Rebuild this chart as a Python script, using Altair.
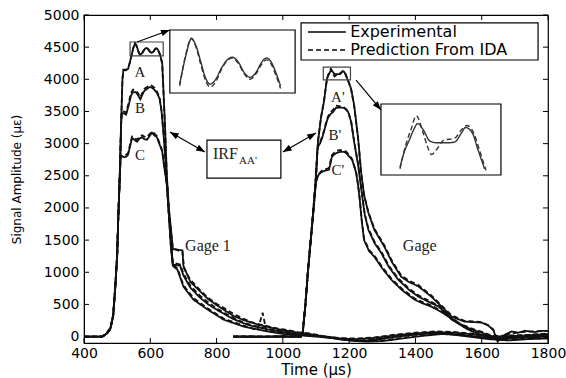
import math
import altair as alt
import pandas as pd

# ---------------- data ----------------
X_TICKS = [400, 600, 800, 1000, 1200, 1400, 1600, 1800]
Y_TICKS = [0, 500, 1000, 1500, 2000, 2500, 3000, 3500, 4000, 4500, 5000]
KINDS = ["Experimental", "Prediction From IDA"]

G1A_EXP = [(400,0),(450,0),(458,5),(470,60),(479,120),(488,330),(494,750),(500,1260),(503,1790),(508,2500),(512,3300),(516,4000),(519,4146),(526,4140),(533,4160),(540,4300),(544,4386),(549,4490),(554,4558),(558,4530),(562,4470),(566,4410),(570,4386),(574,4400),(580,4450),(585,4480),(589,4488),(594,4470),(599,4430),(604,4412),(609,4430),(614,4470),(618,4485),(622,4470),(626,4430),(630,4379),(636,4250),(640,3800),(645,3200),(650,2500),(656,2000),(662,1700),(668,1360),(683,1350),(697,1340),(700,1100),(721,850),(751,700),(775,580),(803,480),(830,390),(852,320),(880,260),(903,220),(930,180),(955,150),(980,120),(1003,100),(1025,80),(1045,60),(1080,40),(1120,0),(1180,-50),(1230,-70),(1280,-50),(1330,-10),(1400,30),(1450,50),(1500,40),(1560,0),(1620,-40),(1680,-60),(1740,-40),(1800,-30)]
G1A_PRED = [(400,0),(455,0),(470,70),(480,140),(488,340),(494,760),(500,1280),(503,1800),(508,2520),(512,3320),(516,4010),(519,4150),(527,4150),(533,4170),(540,4290),(544,4380),(549,4495),(554,4560),(558,4525),(562,4460),(566,4400),(570,4375),(574,4390),(580,4445),(585,4478),(589,4485),(594,4465),(599,4425),(604,4405),(609,4425),(614,4462),(618,4478),(622,4462),(626,4420),(630,4370),(636,4240),(640,3780),(645,3180),(650,2480),(656,1980),(662,1650),(668,1380),(683,1340),(697,1320),(702,1060),(721,880),(751,720),(775,600),(803,500),(830,420),(852,350),(880,280),(903,230),(930,190),(955,160),(980,130),(1003,110),(1045,70),(1080,50),(1120,10),(1180,-40),(1230,-60),(1280,-40),(1330,0),(1400,40),(1450,60),(1500,50),(1560,10),(1620,-30),(1680,-50),(1740,-30),(1800,-20)]

G1B_EXP = [(400,0),(450,0),(458,5),(470,55),(479,115),(488,320),(494,740),(500,1250),(503,1780),(508,2500),(512,3300),(514,3480),(520,3470),(527,3450),(535,3600),(542,3750),(548,3800),(556,3800),(562,3760),(570,3690),(576,3760),(582,3820),(590,3850),(598,3880),(605,3870),(612,3840),(620,3790),(628,3700),(634,3500),(640,3150),(645,2800),(650,2350),(656,1900),(662,1500),(668,1120),(680,1110),(690,1100),(700,950),(721,760),(751,600),(775,500),(803,410),(830,330),(852,270),(880,210),(903,170),(955,110),(1003,70),(1045,40),(1090,20),(1150,-20),(1200,-60),(1250,-80),(1300,-70),(1360,-30),(1420,10),(1480,40),(1540,20),(1600,-10),(1660,-30),(1720,-20),(1800,0)]
G1B_PRED = [(400,0),(455,0),(470,60),(480,130),(488,330),(494,750),(500,1260),(503,1790),(508,2510),(512,3310),(514,3490),(520,3500),(527,3480),(535,3640),(542,3790),(548,3840),(556,3830),(562,3790),(570,3720),(576,3790),(582,3850),(590,3880),(598,3910),(605,3900),(612,3870),(620,3810),(628,3720),(634,3510),(640,3160),(645,2810),(650,2360),(656,1910),(662,1520),(668,1150),(690,1120),(700,980),(721,790),(751,630),(775,530),(803,430),(830,350),(852,290),(880,220),(903,180),(955,120),(1003,80),(1045,50),(1090,25),(1150,-10),(1200,-50),(1250,-70),(1300,-60),(1360,-20),(1420,20),(1480,50),(1540,30),(1600,0),(1660,-20),(1720,-10),(1800,10)]

G1C_EXP = [(400,0),(450,0),(458,5),(470,50),(479,110),(488,310),(494,730),(500,1240),(503,1770),(508,2500),(511,2795),(515,2800),(522,2790),(528,2800),(533,2830),(540,2980),(545,3090),(552,3060),(560,3030),(568,3080),(575,3100),(582,3070),(590,3060),(598,3120),(605,3170),(612,3130),(620,3100),(627,3000),(636,2880),(642,2640),(651,2330),(656,1900),(662,1400),(668,1100),(682,1040),(700,776),(730,575),(773,420),(821,264),(882,155),(955,78),(1003,40),(1045,20),(1100,0),(1160,-30),(1220,-40),(1280,-20),(1340,20),(1400,50),(1460,70),(1520,60),(1580,30),(1640,0),(1700,10),(1760,20),(1800,30)]
G1C_PRED = [(400,0),(455,0),(470,55),(480,120),(488,320),(494,740),(500,1250),(503,1780),(508,2510),(511,2810),(522,2810),(533,2850),(540,3010),(545,3110),(552,3090),(560,3060),(568,3110),(575,3130),(582,3110),(590,3100),(598,3150),(605,3190),(612,3160),(620,3120),(627,3020),(636,2890),(642,2650),(651,2340),(656,1920),(662,1420),(668,1120),(682,1060),(700,800),(730,600),(773,440),(821,280),(882,170),(924,100),(939,370),(950,90),(1003,50),(1045,30),(1100,10),(1160,-20),(1220,-30),(1280,-10),(1340,30),(1400,60),(1460,80),(1520,70),(1580,40),(1640,10),(1700,20),(1760,30),(1800,40)]

G2A_EXP = [(850,0),(900,5),(950,-5),(1000,10),(1030,0),(1054,0),(1060,62),(1068,500),(1076,1040),(1084,1500),(1091,1900),(1100,2500),(1106,3028),(1115,3400),(1124,3650),(1129,3850),(1133,4005),(1136,4050),(1140,4090),(1143,4120),(1146,4139),(1150,4120),(1155,4085),(1160,4080),(1168,4080),(1173,4082),(1178,4110),(1181,4127),(1186,4110),(1190,4060),(1195,3999),(1200,3940),(1206,3850),(1215,3603),(1227,3090),(1236,2562),(1245,2205),(1258,1925),(1276,1660),(1306,1400),(1330,1150),(1357,930),(1380,850),(1409,780),(1448,620),(1479,466),(1509,310),(1548,233),(1575,225),(1600,217),(1620,170),(1635,100),(1648,-78),(1660,-20),(1670,30),(1690,80),(1710,60),(1730,90),(1760,70),(1780,90),(1800,90)]
G2A_PRED = [(850,0),(900,0),(950,0),(1000,0),(1054,0),(1060,70),(1068,520),(1076,1060),(1084,1520),(1091,1920),(1100,2520),(1106,3040),(1115,3410),(1124,3660),(1129,3860),(1133,4000),(1137,4070),(1141,4120),(1145,4163),(1150,4110),(1153,4070),(1156,4044),(1160,4060),(1165,4088),(1173,4094),(1178,4120),(1182,4133),(1187,4110),(1191,4060),(1196,3995),(1200,3930),(1206,3840),(1215,3590),(1227,3080),(1236,2550),(1245,2200),(1258,1935),(1276,1680),(1306,1420),(1330,1170),(1357,950),(1380,870),(1409,800),(1448,640),(1479,480),(1509,330),(1548,245),(1600,225),(1620,175),(1635,110),(1648,-60),(1660,-10),(1680,40),(1720,70),(1760,80),(1800,90)]

G2B_EXP = [(850,0),(900,-10),(950,0),(1000,-5),(1054,0),(1060,60),(1068,490),(1076,1030),(1084,1490),(1091,1890),(1100,2480),(1104,2900),(1108,2980),(1112,3000),(1118,3080),(1124,3183),(1130,3300),(1136,3400),(1144,3460),(1152,3494),(1160,3556),(1172,3560),(1185,3556),(1192,3520),(1197,3494),(1206,3339),(1215,3028),(1227,2671),(1236,2314),(1247,1900),(1258,1660),(1277,1450),(1297,1300),(1320,1080),(1348,885),(1380,730),(1409,620),(1440,540),(1470,466),(1490,370),(1509,264),(1530,200),(1548,155),(1575,100),(1600,62),(1630,0),(1660,-50),(1700,0),(1750,20),(1800,40)]
G2B_PRED = [(850,0),(950,0),(1054,0),(1060,65),(1068,500),(1076,1040),(1084,1500),(1091,1900),(1100,2490),(1104,2890),(1108,2990),(1112,3020),(1118,3100),(1124,3200),(1130,3320),(1136,3420),(1144,3490),(1152,3530),(1160,3590),(1172,3580),(1185,3560),(1192,3530),(1197,3500),(1206,3350),(1215,3040),(1227,2680),(1236,2320),(1247,1910),(1258,1680),(1277,1470),(1297,1320),(1320,1100),(1348,905),(1380,750),(1409,640),(1440,560),(1470,480),(1490,385),(1509,280),(1530,215),(1548,170),(1575,115),(1600,75),(1630,15),(1660,-30),(1700,10),(1750,30),(1800,50)]

G2C_EXP = [(850,0),(900,0),(950,0),(1000,0),(1054,0),(1060,58),(1068,480),(1076,1020),(1084,1480),(1091,1880),(1100,2400),(1106,2500),(1112,2540),(1118,2562),(1128,2580),(1139,2593),(1144,2700),(1148,2795),(1155,2830),(1163,2857),(1172,2870),(1185,2873),(1192,2850),(1200,2800),(1209,2750),(1221,2547),(1227,2350),(1232,2130),(1238,1800),(1245,1500),(1260,1330),(1276,1240),(1300,1060),(1327,885),(1360,720),(1397,575),(1420,520),(1448,466),(1475,390),(1500,310),(1525,220),(1548,140),(1565,95),(1579,62),(1610,0),(1650,-20),(1700,-10),(1750,0),(1800,10)]
G2C_PRED = [(850,0),(950,0),(1054,0),(1060,60),(1068,490),(1076,1030),(1084,1490),(1091,1890),(1100,2410),(1106,2510),(1112,2550),(1118,2580),(1128,2600),(1139,2620),(1144,2730),(1148,2820),(1155,2860),(1163,2890),(1172,2900),(1185,2895),(1192,2870),(1200,2820),(1209,2760),(1221,2560),(1227,2360),(1232,2140),(1238,1810),(1245,1520),(1260,1350),(1276,1260),(1300,1080),(1327,905),(1360,740),(1397,595),(1420,540),(1448,485),(1475,405),(1500,325),(1525,235),(1548,155),(1565,110),(1579,75),(1610,15),(1650,-5),(1700,5),(1750,15),(1800,25)]

# annotation positions (data coordinates)
BOX_NAMES = ["zoomA", "insetA", "zoomA2", "insetA2", "irf", "legend"]
BOX_X = [(539, 639), (659, 1037), (1122, 1204), (1296, 1658), (771, 994), (1055, 1770)]
BOX_Y = [(4364, 4580), (3787, 4767), (3990, 4190), (2512, 3616), (2465, 3056), (4300, 4876)]
BOX_FILLED = [False, True, False, True, True, True]

ARROWS = [  # (x1, y1, x2, y2, head_at_start, head_at_end)
    (560, 4580, 659, 4767, False, True),
    (659, 3181, 765, 2870, True, True),
    (1000, 2870, 1100, 3165, True, True),
    (1221, 3989, 1296, 3523, False, True),
]

CURVE_LABELS = ["A", "B", "C", "A'", "B'", "C'"]
CURVE_LABEL_X = [569, 569, 569, 1166, 1157, 1166]
CURVE_LABEL_Y = [4114, 3554, 2823, 3725, 3134, 2590]

GAGE_LABELS = ["Gage 1", "Gage"]
GAGE_X = [705, 1362]
GAGE_Y = [1408, 1408]

# inset domains = the small boxes
INSET1_X, INSET1_Y = [539, 639], [4364, 4580]
INSET2_X, INSET2_Y = [1122, 1204], [3990, 4190]

# ---------------- layout ----------------
W, H = 464, 328
X_DOM, Y_DOM = [400, 1800], [-100, 5000]
SX = W / (X_DOM[1] - X_DOM[0])
SY = H / (Y_DOM[1] - Y_DOM[0])

def px(xv):
    return (xv - X_DOM[0]) * SX

def py(yv):
    return (Y_DOM[1] - yv) * SY

curves = {
    ("G1A", KINDS[0]): G1A_EXP, ("G1A", KINDS[1]): G1A_PRED,
    ("G1B", KINDS[0]): G1B_EXP, ("G1B", KINDS[1]): G1B_PRED,
    ("G1C", KINDS[0]): G1C_EXP, ("G1C", KINDS[1]): G1C_PRED,
    ("G2A", KINDS[0]): G2A_EXP, ("G2A", KINDS[1]): G2A_PRED,
    ("G2B", KINDS[0]): G2B_EXP, ("G2B", KINDS[1]): G2B_PRED,
    ("G2C", KINDS[0]): G2C_EXP, ("G2C", KINDS[1]): G2C_PRED,
}
rows = []
for (cid, kind), pts in curves.items():
    for i, (t, v) in enumerate(pts):
        rows.append({"curve": cid, "kind": kind, "key": cid + "|" + kind, "t": t, "v": v, "i": i})
df = pd.DataFrame(rows)

xs = alt.Scale(domain=X_DOM, nice=False, zero=False)
ys = alt.Scale(domain=Y_DOM, nice=False, zero=False)
dash_scale = alt.Scale(domain=KINDS, range=[[1, 0], [5, 3]])

SANS = "DejaVu Sans"
SERIF = "Liberation Serif"

AX_X = alt.Axis(
    values=X_TICKS, title="Time (µs)", ticks=False, grid=False, labelFlush=False,
    labelOverlap=False,
    labelFont=SANS, labelFontSize=14, labelColor="black", labelPadding=3,
    titleFont=SANS, titleFontSize=15, titleFontWeight="normal", titleColor="black",
    titlePadding=2, domainColor="black", format="d")
AX_Y = alt.Axis(
    values=Y_TICKS, title="Signal Amplitude (με)", ticks=False, grid=False,
    labelOverlap=False, tickCount=11,
    labelFont=SANS, labelFontSize=14, labelColor="black", labelPadding=5,
    titleFont=SANS, titleFontSize=12, titleFontWeight="normal", titleColor="black",
    titlePadding=20, domainColor="black", format="d")

def X(f):
    return alt.X(f, scale=xs, axis=AX_X)

def Y(f):
    return alt.Y(f, scale=ys, axis=AX_Y)

lines = alt.Chart(df).mark_line(color="#111", strokeWidth=1.8).encode(
    x=X("t:Q"), y=Y("v:Q"),
    detail="key:N",
    order="i:Q",
    strokeDash=alt.StrokeDash("kind:N", scale=dash_scale, legend=None),
)

# inward ticks (MATLAB style)
xt = pd.DataFrame({"t": X_TICKS})
yt = pd.DataFrame({"v": Y_TICKS})
tick_bot = alt.Chart(xt).mark_rule(color="black").encode(
    x=X("t:Q"), y=alt.value(H), y2=alt.value(H - 5))
tick_top = alt.Chart(xt).mark_rule(color="black").encode(
    x=X("t:Q"), y=alt.value(0), y2=alt.value(5))
tick_left = alt.Chart(yt).mark_rule(color="black").encode(
    y=Y("v:Q"), x=alt.value(0), x2=alt.value(5))
tick_right = alt.Chart(yt).mark_rule(color="black").encode(
    y=Y("v:Q"), x=alt.value(W), x2=alt.value(W - 5))

# boxes
box_df = pd.DataFrame({
    "name": BOX_NAMES,
    "x1": [b[0] for b in BOX_X], "x2": [b[1] for b in BOX_X],
    "y1": [b[0] for b in BOX_Y], "y2": [b[1] for b in BOX_Y],
    "filled": BOX_FILLED,
})
boxes_filled = alt.Chart(box_df).transform_filter("datum.filled").mark_rect(
    fill="white", stroke="black", strokeWidth=1.2).encode(
    x=X("x1:Q"), x2="x2:Q", y=Y("y1:Q"), y2="y2:Q")
boxes_open = alt.Chart(box_df).transform_filter("!datum.filled").mark_rect(
    fillOpacity=0, stroke="#444", strokeWidth=1.2).encode(
    x=X("x1:Q"), x2="x2:Q", y=Y("y1:Q"), y2="y2:Q")

# arrows
arr_df = pd.DataFrame([{"x1": a[0], "y1": a[1], "x2": a[2], "y2": a[3]} for a in ARROWS])
arrow_lines = alt.Chart(arr_df).mark_rule(color="black", strokeWidth=1.2).encode(
    x=X("x1:Q"), y=Y("y1:Q"), x2="x2:Q", y2="y2:Q")

heads = []
for (x1, y1, x2, y2, hs, he) in ARROWS:
    dx, dy = px(x2) - px(x1), py(y2) - py(y1)
    if he:
        heads.append({"x": x2, "y": y2, "ang": math.degrees(math.atan2(dx, -dy)) % 360})
    if hs:
        heads.append({"x": x1, "y": y1, "ang": math.degrees(math.atan2(-dx, dy)) % 360})
head_df = pd.DataFrame(heads)
arrow_heads = alt.Chart(head_df).mark_point(
    shape="M0,0L-0.5,1.35L0.5,1.35Z", filled=True, color="black", opacity=1, size=170,
    strokeWidth=0).encode(
    x=X("x:Q"), y=Y("y:Q"), angle=alt.Angle("ang:Q", scale=None))

# texts
lab_df = pd.DataFrame({"text": CURVE_LABELS, "x": CURVE_LABEL_X, "y": CURVE_LABEL_Y})
curve_labels = alt.Chart(lab_df).mark_text(font=SERIF, fontSize=15, color="#222").encode(
    x=X("x:Q"), y=Y("y:Q"), text="text:N")
gage_df = pd.DataFrame({"text": GAGE_LABELS, "x": GAGE_X, "y": GAGE_Y})
gage_labels = alt.Chart(gage_df).mark_text(font=SERIF, fontSize=16, color="#222", align="left").encode(
    x=X("x:Q"), y=Y("y:Q"), text="text:N")
irf_df = pd.DataFrame({"text": ["IRF", "AA'"], "x": [789, 868], "y": [2839, 2730], "size": [16, 11]})
irf_text = alt.Chart(irf_df).mark_text(font=SERIF, color="#222", align="left").encode(
    x=X("x:Q"), y=Y("y:Q"), text="text:N",
    size=alt.Size("size:Q", scale=None))

# legend drawn inside its own box
leg_df = pd.DataFrame({"kind": KINDS, "x1": [1076, 1076], "x2": [1190, 1190],
                       "y": [4736, 4456], "tx": [1203, 1203]})
leg_lines = alt.Chart(leg_df).mark_rule(color="black", strokeWidth=1.3).encode(
    x=X("x1:Q"), x2="x2:Q", y=Y("y:Q"),
    strokeDash=alt.StrokeDash("kind:N", scale=dash_scale, legend=None))
leg_text = alt.Chart(leg_df).mark_text(font=SANS, fontSize=16, color="black", align="left").encode(
    x=X("tx:Q"), y=Y("y:Q"), text="kind:N")

main = alt.layer(lines, tick_bot, tick_top, tick_left, tick_right,
                 boxes_open, boxes_filled, arrow_lines, arrow_heads,
                 curve_labels, gage_labels, irf_text, leg_lines, leg_text)

# insets: magnified views of the boxed peaks through their own scales
def inset(curve, xdom, ydom, xr, yr):
    return alt.Chart(df).transform_filter(
        f"datum.curve == '{curve}' && datum.t >= {xdom[0]} && datum.t <= {xdom[1]} "
        f"&& datum.v >= {ydom[0]} && datum.v <= {ydom[1]}"
    ).mark_line(color="#333", strokeWidth=1.4, interpolate="monotone").encode(
        x=alt.X("t:Q", scale=alt.Scale(domain=xdom, range=xr, nice=False, zero=False), axis=None),
        y=alt.Y("v:Q", scale=alt.Scale(domain=ydom, range=yr, nice=False, zero=False), axis=None),
        detail="key:N", order="i:Q",
        strokeDash=alt.StrokeDash("kind:N", scale=dash_scale, legend=None))

ins1 = inset("G1A", INSET1_X, INSET1_Y,
             [px(BOX_X[1][0]) + 4, px(BOX_X[1][1]) - 4],
             [py(BOX_Y[1][0]) - 3, py(BOX_Y[1][1]) + 3])
ins2 = inset("G2A", INSET2_X, INSET2_Y,
             [px(BOX_X[3][0]) + 4, px(BOX_X[3][1]) - 4],
             [py(BOX_Y[3][0]) - 3, py(BOX_Y[3][1]) + 3])

chart = alt.layer(main, ins1, ins2).resolve_scale(
    x="independent", y="independent"
).properties(
    width=W, height=H,
    autosize=alt.AutoSizeParams(type="none"),
    padding={"left": 84, "top": 15, "right": 18, "bottom": 35},
    background="white",
).configure_view(stroke="black", strokeWidth=1.2)

chart.save("out.html", embed_options={"renderer": "svg", "actions": False})
